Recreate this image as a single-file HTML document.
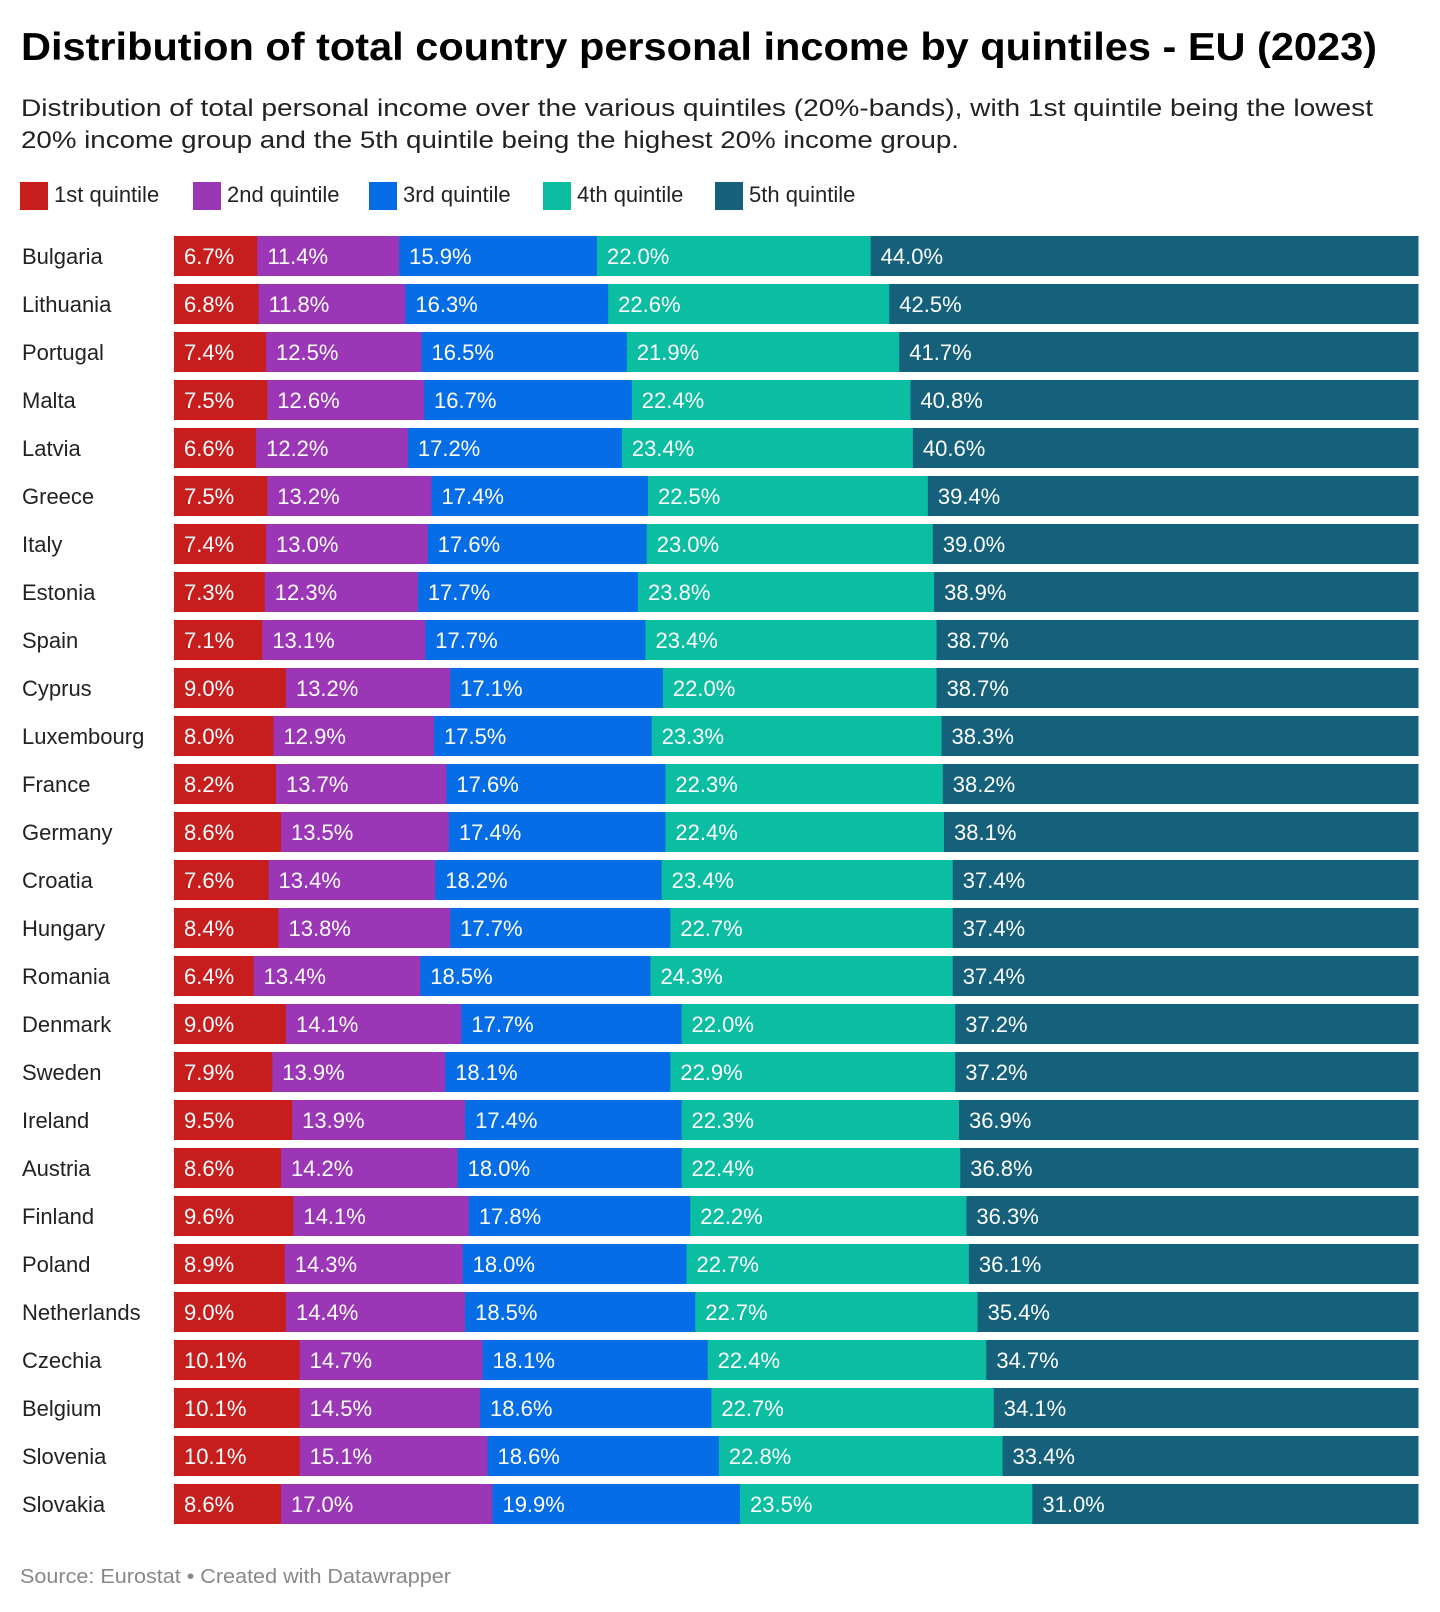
<!DOCTYPE html>
<html><head><meta charset="utf-8"><style>
html,body{margin:0;padding:0;background:#fff;}
svg{display:block;font-family:"Liberation Sans",sans-serif;}
</style></head><body>
<svg id="chart" width="1440" height="1612" viewBox="0 0 1440 1612" xmlns="http://www.w3.org/2000/svg">
<text x="21" y="60" font-size="39" font-weight="bold" fill="#000" textLength="1356" lengthAdjust="spacingAndGlyphs">Distribution of total country personal income by quintiles - EU (2023)</text>
<text x="21" y="116" font-size="24" fill="#222" textLength="1352" lengthAdjust="spacingAndGlyphs">Distribution of total personal income over the various quintiles (20%-bands), with 1st quintile being the lowest</text>
<text x="21" y="148" font-size="24" fill="#222" textLength="938" lengthAdjust="spacingAndGlyphs">20% income group and the 5th quintile being the highest 20% income group.</text>
<g id="legend"></g>
<g id="bars"></g>
<text x="20" y="1583" font-size="20" fill="#888" textLength="431" lengthAdjust="spacingAndGlyphs">Source: Eurostat • Created with Datawrapper</text>
</svg>
<script>
const countries = ["Bulgaria","Lithuania","Portugal","Malta","Latvia","Greece","Italy","Estonia","Spain","Cyprus","Luxembourg","France","Germany","Croatia","Hungary","Romania","Denmark","Sweden","Ireland","Austria","Finland","Poland","Netherlands","Czechia","Belgium","Slovenia","Slovakia"];
const q1 = [6.7,6.8,7.4,7.5,6.6,7.5,7.4,7.3,7.1,9.0,8.0,8.2,8.6,7.6,8.4,6.4,9.0,7.9,9.5,8.6,9.6,8.9,9.0,10.1,10.1,10.1,8.6];
const q2 = [11.4,11.8,12.5,12.6,12.2,13.2,13.0,12.3,13.1,13.2,12.9,13.7,13.5,13.4,13.8,13.4,14.1,13.9,13.9,14.2,14.1,14.3,14.4,14.7,14.5,15.1,17.0];
const q3 = [15.9,16.3,16.5,16.7,17.2,17.4,17.6,17.7,17.7,17.1,17.5,17.6,17.4,18.2,17.7,18.5,17.7,18.1,17.4,18.0,17.8,18.0,18.5,18.1,18.6,18.6,19.9];
const q4 = [22.0,22.6,21.9,22.4,23.4,22.5,23.0,23.8,23.4,22.0,23.3,22.3,22.4,23.4,22.7,24.3,22.0,22.9,22.3,22.4,22.2,22.7,22.7,22.4,22.7,22.8,23.5];
const q5 = [44.0,42.5,41.7,40.8,40.6,39.4,39.0,38.9,38.7,38.7,38.3,38.2,38.1,37.4,37.4,37.4,37.2,37.2,36.9,36.8,36.3,36.1,35.4,34.7,34.1,33.4,31.0];
const seriesNames = ["1st quintile","2nd quintile","3rd quintile","4th quintile","5th quintile"];

const NS="http://www.w3.org/2000/svg";
const colors=["#c71e1d","#9b36b7","#066de6","#0bbda1","#15607a"];
const X0=174, X1=1418, Y0=236, PITCH=48, BH=40;
const series=[q1,q2,q3,q4,q5];
function mk(tag,attrs,parent){const e=document.createElementNS(NS,tag);for(const k in attrs)e.setAttribute(k,attrs[k]);parent.appendChild(e);return e;}
const xScale=(v,total)=>v/total*(X1-X0);
const yScale=i=>Y0+i*PITCH;

const lg=document.getElementById('legend');
const legX=[20,193,369,543,715];
seriesNames.forEach((n,i)=>{
  const r=mk('rect',{x:legX[i],y:182,width:28,height:28,fill:colors[i]},lg);
  
  
  const t=mk('text',{x:legX[i]+34,y:202,'font-size':22,fill:'#222'},lg);
  t.textContent=n;
  
  
});

const g=document.getElementById('bars');
countries.forEach((c,i)=>{
  const y=yScale(i);
  const lab=mk('text',{x:22,y:y+28,'font-size':22,fill:'#222'},g);
  lab.textContent=c;
  
  
  const total=series.reduce((s,a)=>s+a[i],0);
  let x=X0;
  series.forEach((a,k)=>{
    const w=xScale(a[i],total);
    const r=mk('rect',{x:x,y:y,width:w+0.5,height:BH,fill:colors[k]},g);
    
    
    const t=mk('text',{x:x+10,y:y+28,'font-size':22,fill:'#fff'},g);
    t.textContent=a[i].toFixed(1)+'%';
    
    
    x+=w;
  });
});
</script>
</body></html>
